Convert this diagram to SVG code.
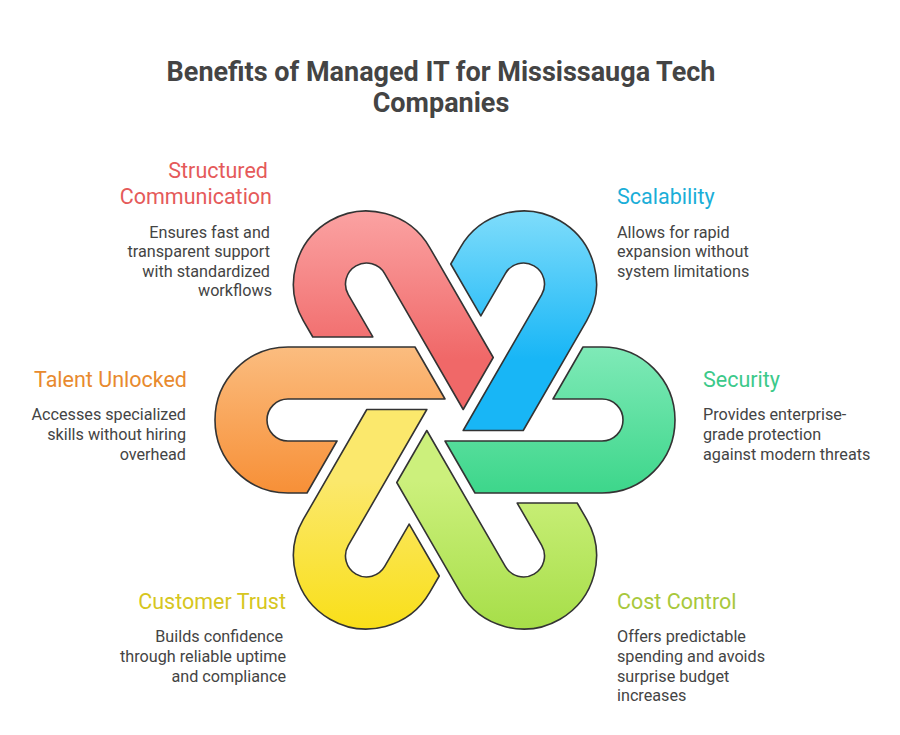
<svg xmlns="http://www.w3.org/2000/svg" width="900" height="735" viewBox="0 0 900 735">
<style>
.t{font-family:Roboto,"Liberation Sans",sans-serif;font-size:27px;font-weight:bold;fill:#444;text-anchor:middle}
.h{font-family:Roboto,"Liberation Sans",sans-serif;font-size:21.5px}
.d{font-family:Roboto,"Liberation Sans",sans-serif;font-size:16.2px;fill:#444}
.r{text-anchor:end}
.hook{stroke:#333;stroke-width:1.6;stroke-linejoin:round}
</style>
<defs>
<path id="hk" d="M -30,-73 L -157,-73 A 73 73 0 0 0 -157,73 L -138,73 L -108,21 L -157,21 A 21 21 0 0 1 -157,-21 L 0,-21 Z"/>
<linearGradient id="gO" gradientUnits="userSpaceOnUse" x1="-157" y1="-75" x2="-157" y2="75"><stop offset="0" stop-color="#fbbd80"/><stop offset="1" stop-color="#f78f36"/></linearGradient>
<linearGradient id="gR" gradientUnits="userSpaceOnUse" x1="-222" y1="-37.5" x2="-92" y2="37.5"><stop offset="0" stop-color="#fba3a3"/><stop offset="1" stop-color="#f06868"/></linearGradient>
<linearGradient id="gB" gradientUnits="userSpaceOnUse" x1="-222" y1="37.5" x2="-92" y2="-37.5"><stop offset="0" stop-color="#80ddfb"/><stop offset="1" stop-color="#18b6f6"/></linearGradient>
<linearGradient id="gG" gradientUnits="userSpaceOnUse" x1="-157" y1="75" x2="-157" y2="-75"><stop offset="0" stop-color="#80eab8"/><stop offset="1" stop-color="#3cd68a"/></linearGradient>
<linearGradient id="gL" gradientUnits="userSpaceOnUse" x1="-92" y1="37.5" x2="-222" y2="-37.5"><stop offset="0" stop-color="#ccf07c"/><stop offset="1" stop-color="#a6de48"/></linearGradient>
<linearGradient id="gY" gradientUnits="userSpaceOnUse" x1="-92" y1="-37.5" x2="-222" y2="37.5"><stop offset="0" stop-color="#fbe86c"/><stop offset="1" stop-color="#f9df18"/></linearGradient>
</defs>
<text class="t" x="441" y="81">Benefits of Managed IT for Mississauga Tech</text>
<text class="t" x="441" y="112">Companies</text>
<g transform="translate(445,420)">
<g id="talent"><use href="#hk" class="hook" fill="url(#gO)"/></g>
<g id="structured"><use href="#hk" class="hook" fill="url(#gR)" transform="rotate(60)"/></g>
<g id="scalability"><use href="#hk" class="hook" fill="url(#gB)" transform="rotate(120)"/></g>
<g id="security"><use href="#hk" class="hook" fill="url(#gG)" transform="rotate(180)"/></g>
<g id="cost"><use href="#hk" class="hook" fill="url(#gL)" transform="rotate(240)"/></g>
<g id="trust"><use href="#hk" class="hook" fill="url(#gY)" transform="rotate(300)"/></g>
</g>
<g id="lbl-structured">
<text class="h r" x="268" y="178" fill="#e55a5a">Structured</text>
<text class="h r" x="272" y="204" fill="#e55a5a">Communication</text>
<text class="d r" x="270" y="238">Ensures fast and</text>
<text class="d r" x="270" y="257">transparent support</text>
<text class="d r" x="270" y="277">with standardized</text>
<text class="d r" x="272" y="296">workflows</text>
</g>
<g id="lbl-scalability">
<text class="h" x="617" y="204" fill="#1aaed8">Scalability</text>
<text class="d" x="617" y="238">Allows for rapid</text>
<text class="d" x="617" y="257">expansion without</text>
<text class="d" x="617" y="277">system limitations</text>
</g>
<g id="lbl-talent">
<text class="h r" x="187" y="387" fill="#e88a2e">Talent Unlocked</text>
<text class="d r" x="186" y="420">Accesses specialized</text>
<text class="d r" x="186" y="440">skills without hiring</text>
<text class="d r" x="186" y="460">overhead</text>
</g>
<g id="lbl-security">
<text class="h" x="703" y="387" fill="#3cc98a">Security</text>
<text class="d" x="703" y="420">Provides enterprise-</text>
<text class="d" x="703" y="440">grade protection</text>
<text class="d" x="703" y="460">against modern threats</text>
</g>
<g id="lbl-trust">
<text class="h r" x="286" y="609" fill="#d6c620">Customer Trust</text>
<text class="d r" x="283" y="642">Builds confidence</text>
<text class="d r" x="286" y="662">through reliable uptime</text>
<text class="d r" x="286" y="682">and compliance</text>
</g>
<g id="lbl-cost">
<text class="h" x="617" y="609" fill="#a8c83c">Cost Control</text>
<text class="d" x="617" y="642">Offers predictable</text>
<text class="d" x="617" y="662">spending and avoids</text>
<text class="d" x="617" y="682">surprise budget</text>
<text class="d" x="617" y="701">increases</text>
</g>
</svg>
